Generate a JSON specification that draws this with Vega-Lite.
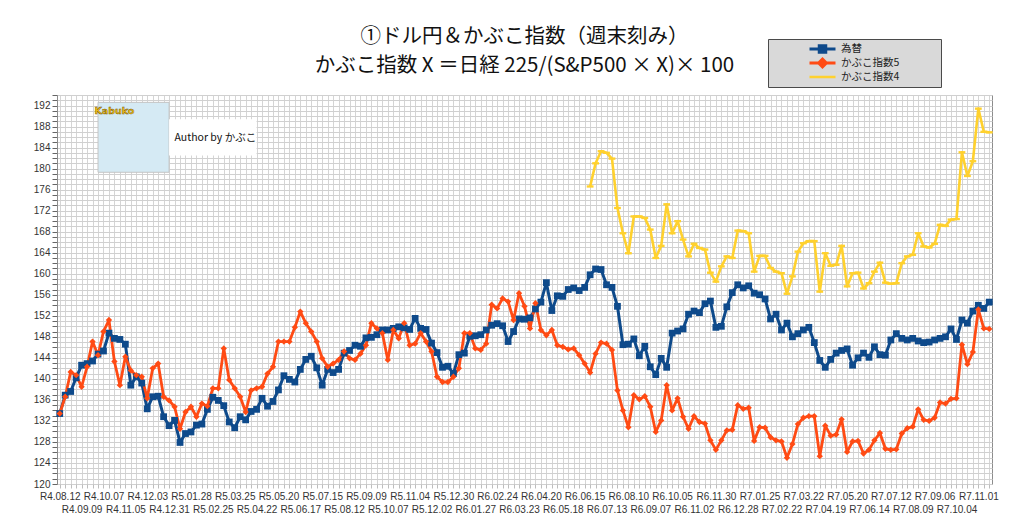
{
  "$schema": "https://vega.github.io/schema/vega-lite/v6.json",
  "width": 935,
  "height": 389,
  "autosize": {"type": "none"},
  "padding": {"left": 57, "top": 95, "right": 32, "bottom": 40},
  "background": "white",
  "title": {
    "text": ["①ドル円＆かぶこ指数（週末刻み）　", "かぶこ指数 X ＝日経 225/(S&P500 × X)× 100"],
    "frame": "group",
    "anchor": "middle",
    "offset": -38,
    "font": "Noto Sans CJK JP",
    "fontSize": 20.5,
    "fontWeight": 400,
    "color": "#111111",
    "lineHeight": 29
  },
  "config": {
    "view": {"stroke": "#8c8c8c"},
    "axis": {"labelFont": "Liberation Sans", "labelFontSize": 10, "labelColor": "#333333"}
  },
  "datasets": {
    "weekly": [
      {"d": "R4.08.12", "為替": 133.4, "かぶこ指数5": 133.4},
      {"d": "R4.08.19", "為替": 136.9, "かぶこ指数5": 136.6},
      {"d": "R4.08.26", "為替": 137.6, "かぶこ指数5": 141.3},
      {"d": "R4.09.02", "為替": 140.2, "かぶこ指数5": 140.7},
      {"d": "R4.09.09", "為替": 142.6, "かぶこ指数5": 138.5},
      {"d": "R4.09.16", "為替": 142.9, "かぶこ指数5": 142.3},
      {"d": "R4.09.23", "為替": 143.4, "かぶこ指数5": 147.1},
      {"d": "R4.09.30", "為替": 144.7, "かぶこ指数5": 144.5},
      {"d": "R4.10.07", "為替": 145.3, "かぶこ指数5": 149.0},
      {"d": "R4.10.14", "為替": 148.7, "かぶこ指数5": 151.2},
      {"d": "R4.10.21", "為替": 147.7, "かぶこ指数5": 143.3},
      {"d": "R4.10.28", "為替": 147.5, "かぶこ指数5": 138.8},
      {"d": "R4.11.05", "為替": 146.6, "かぶこ指数5": 144.2},
      {"d": "R4.11.12", "為替": 138.8, "かぶこ指数5": 141.6},
      {"d": "R4.11.19", "為替": 140.4, "かぶこ指数5": 140.7},
      {"d": "R4.11.26", "為替": 139.2, "かぶこ指数5": 140.4},
      {"d": "R4.12.03", "為替": 134.3, "かぶこ指数5": 136.3},
      {"d": "R4.12.10", "為替": 136.6, "かぶこ指数5": 142.0},
      {"d": "R4.12.17", "為替": 136.7, "かぶこ指数5": 142.9},
      {"d": "R4.12.24", "為替": 132.8, "かぶこ指数5": 136.6},
      {"d": "R4.12.31", "為替": 131.1, "かぶこ指数5": 135.9},
      {"d": "R5.01.07", "為替": 132.1, "かぶこ指数5": 134.7},
      {"d": "R5.01.14", "為替": 127.9, "かぶこ指数5": 130.5},
      {"d": "R5.01.21", "為替": 129.6, "かぶこ指数5": 133.7},
      {"d": "R5.01.28", "為替": 129.9, "かぶこ指数5": 134.7},
      {"d": "R5.02.04", "為替": 131.2, "かぶこ指数5": 132.8},
      {"d": "R5.02.11", "為替": 131.4, "かぶこ指数5": 135.3},
      {"d": "R5.02.18", "為替": 134.2, "かぶこ指数5": 134.8},
      {"d": "R5.02.25", "為替": 136.5, "かぶこ指数5": 138.2},
      {"d": "R5.03.04", "為替": 135.9, "かぶこ指数5": 138.2},
      {"d": "R5.03.11", "為替": 134.9, "かぶこ指数5": 145.8},
      {"d": "R5.03.18", "為替": 131.8, "かぶこ指数5": 139.8},
      {"d": "R5.03.25", "為替": 130.7, "かぶこ指数5": 138.2},
      {"d": "R5.04.01", "為替": 132.8, "かぶこ指数5": 136.6},
      {"d": "R5.04.08", "為替": 132.2, "かぶこ指数5": 133.7},
      {"d": "R5.04.15", "為替": 133.8, "かぶこ指数5": 137.8},
      {"d": "R5.04.22", "為替": 134.2, "かぶこ指数5": 138.2},
      {"d": "R5.04.29", "為替": 136.3, "かぶこ指数5": 138.5},
      {"d": "R5.05.06", "為替": 134.8, "かぶこ指数5": 141.0},
      {"d": "R5.05.13", "為替": 135.7, "かぶこ指数5": 142.3},
      {"d": "R5.05.20", "為替": 137.9, "かぶこ指数5": 147.1},
      {"d": "R5.05.27", "為替": 140.6, "かぶこ指数5": 147.1},
      {"d": "R5.06.03", "為替": 139.9, "かぶこ指数5": 147.1},
      {"d": "R5.06.10", "為替": 139.4, "かぶこ指数5": 149.8},
      {"d": "R5.06.17", "為替": 141.8, "かぶこ指数5": 152.8},
      {"d": "R5.06.24", "為替": 143.7, "かぶこ指数5": 150.6},
      {"d": "R5.07.01", "為替": 144.3, "かぶこ指数5": 149.0},
      {"d": "R5.07.08", "為替": 142.1, "かぶこ指数5": 147.1},
      {"d": "R5.07.15", "為替": 138.8, "かぶこ指数5": 143.9},
      {"d": "R5.07.22", "為替": 141.8, "かぶこ指数5": 142.3},
      {"d": "R5.07.29", "為替": 141.2, "かぶこ指数5": 142.9},
      {"d": "R5.08.05", "為替": 141.8, "かぶこ指数5": 143.6},
      {"d": "R5.08.12", "為替": 144.9, "かぶこ指数5": 145.2},
      {"d": "R5.08.19", "為替": 145.4, "かぶこ指数5": 143.9},
      {"d": "R5.08.26", "為替": 146.4, "かぶこ指数5": 143.6},
      {"d": "R5.09.02", "為替": 146.2, "かぶこ指数5": 144.8},
      {"d": "R5.09.09", "為替": 147.8, "かぶこ指数5": 146.4},
      {"d": "R5.09.16", "為替": 147.9, "かぶこ指数5": 150.6},
      {"d": "R5.09.23", "為替": 148.4, "かぶこ指数5": 149.6},
      {"d": "R5.09.30", "為替": 149.3, "かぶこ指数5": 148.7},
      {"d": "R5.10.07", "為替": 149.3, "かぶこ指数5": 143.6},
      {"d": "R5.10.14", "為替": 149.6, "かぶこ指数5": 149.3},
      {"d": "R5.10.21", "為替": 149.9, "かぶこ指数5": 147.7},
      {"d": "R5.10.28", "為替": 149.7, "かぶこ指数5": 150.6},
      {"d": "R5.11.04", "為替": 149.4, "かぶこ指数5": 146.4},
      {"d": "R5.11.11", "為替": 151.5, "かぶこ指数5": 146.7},
      {"d": "R5.11.18", "為替": 149.6, "かぶこ指数5": 148.7},
      {"d": "R5.11.25", "為替": 149.4, "かぶこ指数5": 147.1},
      {"d": "R5.12.02", "為替": 146.8, "かぶこ指数5": 145.2},
      {"d": "R5.12.09", "為替": 145.0, "かぶこ指数5": 140.4},
      {"d": "R5.12.16", "為替": 142.2, "かぶこ指数5": 139.4},
      {"d": "R5.12.23", "為替": 142.4, "かぶこ指数5": 139.4},
      {"d": "R5.12.30", "為替": 141.0, "かぶこ指数5": 140.4},
      {"d": "R6.01.06", "為替": 144.6, "かぶこ指数5": 142.0},
      {"d": "R6.01.13", "為替": 144.9, "かぶこ指数5": 148.7},
      {"d": "R6.01.20", "為替": 148.1, "かぶこ指数5": 148.7},
      {"d": "R6.01.27", "為替": 148.2, "かぶこ指数5": 145.8},
      {"d": "R6.02.03", "為替": 148.4, "かぶこ指数5": 145.5},
      {"d": "R6.02.10", "為替": 149.3, "かぶこ指数5": 146.7},
      {"d": "R6.02.17", "為替": 150.2, "かぶこ指数5": 154.1},
      {"d": "R6.02.24", "為替": 150.5, "かぶこ指数5": 153.4},
      {"d": "R6.03.02", "為替": 150.1, "かぶこ指数5": 155.3},
      {"d": "R6.03.09", "為替": 147.1, "かぶこ指数5": 154.7},
      {"d": "R6.03.16", "為替": 149.0, "かぶこ指数5": 151.2},
      {"d": "R6.03.23", "為替": 151.4, "かぶこ指数5": 156.3},
      {"d": "R6.03.30", "為替": 151.35, "かぶこ指数5": 153.8},
      {"d": "R6.04.06", "為替": 151.6, "かぶこ指数5": 149.6},
      {"d": "R6.04.13", "為替": 153.3, "かぶこ指数5": 154.4},
      {"d": "R6.04.20", "為替": 154.6, "かぶこ指数5": 149.3},
      {"d": "R6.04.27", "為替": 158.3, "かぶこ指数5": 148.3},
      {"d": "R6.05.04", "為替": 153.0, "かぶこ指数5": 149.3},
      {"d": "R6.05.11", "為替": 155.8, "かぶこ指数5": 146.4},
      {"d": "R6.05.18", "為替": 155.7, "かぶこ指数5": 146.1},
      {"d": "R6.05.25", "為替": 157.0, "かぶこ指数5": 145.6},
      {"d": "R6.06.01", "為替": 157.3, "かぶこ指数5": 145.8},
      {"d": "R6.06.08", "為替": 156.8, "かぶこ指数5": 144.5},
      {"d": "R6.06.15", "為替": 157.4, "かぶこ指数5": 142.9},
      {"d": "R6.06.22", "為替": 159.8, "かぶこ指数5": 141.2, "かぶこ指数4": 176.6},
      {"d": "R6.06.29", "為替": 160.9, "かぶこ指数5": 144.8, "かぶこ指数4": 181.0},
      {"d": "R6.07.06", "為替": 160.8, "かぶこ指数5": 146.9, "かぶこ指数4": 183.3},
      {"d": "R6.07.13", "為替": 157.9, "かぶこ指数5": 146.7, "かぶこ指数4": 183.0},
      {"d": "R6.07.20", "為替": 157.4, "かぶこ指数5": 145.5, "かぶこ指数4": 181.9},
      {"d": "R6.07.27", "為替": 153.8, "かぶこ指数5": 137.8, "かぶこ指数4": 172.5},
      {"d": "R6.08.03", "為替": 146.5, "かぶこ指数5": 134.0, "かぶこ指数4": 167.7},
      {"d": "R6.08.10", "為替": 146.6, "かぶこ指数5": 130.8, "かぶこ指数4": 163.9},
      {"d": "R6.08.17", "為替": 147.6, "かぶこ指数5": 136.9, "かぶこ指数4": 170.9},
      {"d": "R6.08.24", "為替": 144.4, "かぶこ指数5": 136.1, "かぶこ指数4": 170.9},
      {"d": "R6.08.31", "為替": 146.2, "かぶこ指数5": 136.7, "かぶこ指数4": 170.6},
      {"d": "R6.09.07", "為替": 142.3, "かぶこ指数5": 134.7, "かぶこ指数4": 168.4},
      {"d": "R6.09.14", "為替": 140.8, "かぶこ指数5": 129.9, "かぶこ指数4": 163.0},
      {"d": "R6.09.21", "為替": 143.9, "かぶこ指数5": 132.1, "かぶこ指数4": 165.3},
      {"d": "R6.09.28", "為替": 142.2, "かぶこ指数5": 138.8, "かぶこ指数4": 173.2},
      {"d": "R6.10.05", "為替": 148.7, "かぶこ指数5": 134.0, "かぶこ指数4": 167.7},
      {"d": "R6.10.12", "為替": 149.1, "かぶこ指数5": 136.3, "かぶこ指数4": 170.0},
      {"d": "R6.10.19", "為替": 149.5, "かぶこ指数5": 132.8, "かぶこ指数4": 166.5},
      {"d": "R6.10.26", "為替": 152.3, "かぶこ指数5": 130.5, "かぶこ指数4": 163.3},
      {"d": "R6.11.02", "為替": 152.9, "かぶこ指数5": 132.9, "かぶこ指数4": 165.7},
      {"d": "R6.11.09", "為替": 152.6, "かぶこ指数5": 131.8, "かぶこ指数4": 164.9},
      {"d": "R6.11.16", "為替": 154.3, "かぶこ指数5": 131.5, "かぶこ指数4": 164.6},
      {"d": "R6.11.23", "為替": 154.8, "かぶこ指数5": 128.3, "かぶこ指数4": 160.2},
      {"d": "R6.11.30", "為替": 149.8, "かぶこ指数5": 126.5, "かぶこ指数4": 158.5},
      {"d": "R6.12.07", "為替": 150.0, "かぶこ指数5": 128.3, "かぶこ指数4": 161.4},
      {"d": "R6.12.14", "為替": 153.7, "かぶこ指数5": 130.2, "かぶこ指数4": 163.3},
      {"d": "R6.12.21", "為替": 156.4, "かぶこ指数5": 130.3, "かぶこ指数4": 163.0},
      {"d": "R6.12.28", "為替": 157.9, "かぶこ指数5": 135.0, "かぶこ指数4": 168.2},
      {"d": "R7.01.04", "為替": 157.3, "かぶこ指数5": 134.3, "かぶこ指数4": 168.1},
      {"d": "R7.01.11", "為替": 157.7, "かぶこ指数5": 134.5, "かぶこ指数4": 167.7},
      {"d": "R7.01.18", "為替": 156.3, "かぶこ指数5": 128.2, "かぶこ指数4": 160.4},
      {"d": "R7.01.25", "為替": 156.0, "かぶこ指数5": 130.8, "かぶこ指数4": 163.4},
      {"d": "R7.02.01", "為替": 155.2, "かぶこ指数5": 130.7, "かぶこ指数4": 163.4},
      {"d": "R7.02.08", "為替": 151.4, "かぶこ指数5": 128.9, "かぶこ指数4": 161.1},
      {"d": "R7.02.15", "為替": 152.3, "かぶこ指数5": 128.3, "かぶこ指数4": 160.4},
      {"d": "R7.02.22", "為替": 149.3, "かぶこ指数5": 128.1, "かぶこ指数4": 160.1},
      {"d": "R7.03.01", "為替": 150.6, "かぶこ指数5": 125.0, "かぶこ指数4": 156.2},
      {"d": "R7.03.08", "為替": 148.0, "かぶこ指数5": 127.6, "かぶこ指数4": 159.5},
      {"d": "R7.03.15", "為替": 148.6, "かぶこ指数5": 131.4, "かぶこ指数4": 164.2},
      {"d": "R7.03.22", "為替": 149.3, "かぶこ指数5": 132.6, "かぶこ指数4": 165.8},
      {"d": "R7.03.29", "為替": 149.8, "かぶこ指数5": 132.9, "かぶこ指数4": 166.2},
      {"d": "R7.04.05", "為替": 146.9, "かぶこ指数5": 132.9, "かぶこ指数4": 166.2},
      {"d": "R7.04.12", "為替": 143.5, "かぶこ指数5": 125.3, "かぶこ指数4": 156.6},
      {"d": "R7.04.19", "為替": 142.2, "かぶこ指数5": 131.1, "かぶこ指数4": 163.9},
      {"d": "R7.04.26", "為替": 143.7, "かぶこ指数5": 129.2, "かぶこ指数4": 161.5},
      {"d": "R7.05.03", "為替": 144.9, "かぶこ指数5": 129.4, "かぶこ指数4": 161.7},
      {"d": "R7.05.10", "為替": 145.4, "かぶこ指数5": 132.3, "かぶこ指数4": 165.3},
      {"d": "R7.05.20", "為替": 145.7, "かぶこ指数5": 126.1, "かぶこ指数4": 157.6},
      {"d": "R7.05.24", "為替": 142.6, "かぶこ指数5": 128.1, "かぶこ指数4": 160.1},
      {"d": "R7.05.31", "為替": 144.0, "かぶこ指数5": 128.2, "かぶこ指数4": 160.2},
      {"d": "R7.06.07", "為替": 144.9, "かぶこ指数5": 125.8, "かぶこ指数4": 157.2},
      {"d": "R7.06.14", "為替": 144.1, "かぶこ指数5": 126.5, "かぶこ指数4": 158.2},
      {"d": "R7.06.21", "為替": 146.1, "かぶこ指数5": 128.3, "かぶこ指数4": 160.4},
      {"d": "R7.06.28", "為替": 144.6, "かぶこ指数5": 129.7, "かぶこ指数4": 162.1},
      {"d": "R7.07.05", "為替": 144.5, "かぶこ指数5": 126.7, "かぶこ指数4": 158.3},
      {"d": "R7.07.12", "為替": 147.4, "かぶこ指数5": 126.5, "かぶこ指数4": 158.1},
      {"d": "R7.07.19", "為替": 148.6, "かぶこ指数5": 126.6, "かぶこ指数4": 158.2},
      {"d": "R7.07.26", "為替": 147.7, "かぶこ指数5": 129.6, "かぶこ指数4": 162.0},
      {"d": "R7.08.02", "為替": 147.4, "かぶこ指数5": 130.6, "かぶこ指数4": 163.3},
      {"d": "R7.08.09", "為替": 147.7, "かぶこ指数5": 130.9, "かぶこ指数4": 163.6},
      {"d": "R7.08.16", "為替": 147.2, "かぶこ指数5": 134.2, "かぶこ指数4": 167.7},
      {"d": "R7.08.23", "為替": 146.9, "かぶこ指数5": 132.2, "かぶこ指数4": 165.2},
      {"d": "R7.08.30", "為替": 147.0, "かぶこ指数5": 132.0, "かぶこ指数4": 165.0},
      {"d": "R7.09.06", "為替": 147.4, "かぶこ指数5": 132.6, "かぶこ指数4": 165.7},
      {"d": "R7.09.13", "為替": 147.7, "かぶこ指数5": 135.5, "かぶこ指数4": 169.3},
      {"d": "R7.09.20", "為替": 148.0, "かぶこ指数5": 135.3, "かぶこ指数4": 169.1},
      {"d": "R7.09.27", "為替": 149.5, "かぶこ指数5": 136.2, "かぶこ指数4": 170.3},
      {"d": "R7.10.04", "為替": 147.5, "かぶこ指数5": 136.3, "かぶこ指数4": 170.4},
      {"d": "R7.10.11", "為替": 151.2, "かぶこ指数5": 146.5, "かぶこ指数4": 183.1},
      {"d": "R7.10.18", "為替": 150.6, "かぶこ指数5": 142.8, "かぶこ指数4": 178.6},
      {"d": "R7.10.25", "為替": 152.9, "かぶこ指数5": 145.1, "かぶこ指数4": 181.4},
      {"d": "R7.11.01", "為替": 154.0, "かぶこ指数5": 153.2, "かぶこ指数4": 191.4},
      {"d": "R7.11.08", "為替": 153.4, "かぶこ指数5": 149.6, "かぶこ指数4": 187.0},
      {"d": "R7.11.15", "為替": 154.6, "かぶこ指数5": 149.5, "かぶこ指数4": 186.9}
    ]
  },
  "data": {"name": "weekly"},
  "layer": [
    {
      "transform": [
        {"fold": ["為替", "かぶこ指数5", "かぶこ指数4"], "as": ["系列", "値"]},
        {"filter": "isValid(datum['値'])"}
      ],
      "mark": {"type": "line", "strokeJoin": "round"},
      "encoding": {
        "x": {
          "field": "d",
          "type": "ordinal",
          "scale": {"type": "point", "padding": 0.5},
          "axis": {
            "orient": "bottom",
            "title": null,
            "labels": false,
            "domain": false,
            "ticks": true,
            "tickSize": 4,
            "tickColor": "#bdbdbd",
            "grid": true,
            "gridColor": "#d5d5d5",
            "gridWidth": 1
          }
        },
        "y": {
          "field": "値",
          "type": "quantitative",
          "scale": {"domain": [120, 194], "nice": false, "zero": false},
          "axis": {
            "orient": "left",
            "title": null,
            "values": [120, 121, 122, 123, 124, 125, 126, 127, 128, 129, 130, 131, 132, 133, 134, 135, 136, 137, 138, 139, 140, 141, 142, 143, 144, 145, 146, 147, 148, 149, 150, 151, 152, 153, 154, 155, 156, 157, 158, 159, 160, 161, 162, 163, 164, 165, 166, 167, 168, 169, 170, 171, 172, 173, 174, 175, 176, 177, 178, 179, 180, 181, 182, 183, 184, 185, 186, 187, 188, 189, 190, 191, 192, 193, 194],
            "labelExpr": "datum.value % 4 === 0 ? datum.label : ''",
            "labelOverlap": false,
            "labelBound": false,
            "labelPadding": 2,
            "tickSize": 5,
            "tickColor": "#666666",
            "domain": true,
            "domainColor": "#8c8c8c",
            "grid": true,
            "gridColor": "#d0d0d0",
            "encode": {
              "grid": {"update": {"stroke": {"signal": "datum.value % 4 === 0 ? '#2e2e2e' : datum.value % 2 === 0 ? '#666666' : '#cdcdcd'"}}},
              "ticks": {"update": {"opacity": {"signal": "datum.value % 4 === 0 ? 1 : 0"}}}
            }
          }
        },
        "color": {
          "field": "系列",
          "type": "nominal",
          "scale": {"domain": ["為替", "かぶこ指数5", "かぶこ指数4"], "range": ["#0e4a8b", "#ff4b14", "#ffd12e"]},
          "legend": {
            "title": "　",
            "titleOrient": "right",
            "titlePadding": 38,
            "titleFontSize": 10,
            "titleColor": "#d9d9d9",
            "orient": "none",
            "legendX": 711,
            "legendY": -56,
            "fillColor": "#d9d9d9",
            "strokeColor": "#4a4a4a",
            "padding": 4,
            "symbolSize": 100,
            "symbolOffset": 44,
            "labelOffset": 12,
            "rowPadding": 2,
            "clipHeight": 12,
            "labelFont": "Noto Sans CJK JP",
            "labelFontSize": 10.5,
            "labelColor": "#222222",
            "encode": {
              "symbols": {
                "update": {
                  "shape": {"signal": "datum.value === '為替' ? 'M-2.6,0H2.6M-0.65,-0.65H0.65V0.65H-0.65Z' : datum.value === 'かぶこ指数5' ? 'M-2.6,0H2.6M0,-0.8L0.8,0L0,0.8L-0.8,0Z' : 'M-2.6,0H2.6'"},
                  "stroke": {"scale": "color", "field": "value"},
                  "fill": {"scale": "color", "field": "value"},
                  "strokeWidth": {"value": 2},
                  "size": {"value": 100},
                  "opacity": {"value": 1}
                }
              }
            }
          }
        },
        "strokeWidth": {
          "field": "系列",
          "type": "nominal",
          "scale": {"domain": ["為替", "かぶこ指数5", "かぶこ指数4"], "range": [3, 2.6, 2.6]},
          "legend": null
        }
      }
    },
    {
      "mark": {"type": "point", "filled": true, "opacity": 1, "shape": "square", "size": 46, "color": "#0e4a8b"},
      "encoding": {
        "x": {
          "field": "d",
          "type": "ordinal",
          "axis": {
            "orient": "bottom",
            "title": null,
            "values": ["R4.08.12", "R4.10.07", "R4.12.03", "R5.01.28", "R5.03.25", "R5.05.20", "R5.07.15", "R5.09.09", "R5.11.04", "R5.12.30", "R6.02.24", "R6.04.20", "R6.06.15", "R6.08.10", "R6.10.05", "R6.11.30", "R7.01.25", "R7.03.22", "R7.05.20", "R7.07.12", "R7.09.06", "R7.11.01"],
            "labelAngle": 0,
            "labelOverlap": false,
            "labelPadding": 7,
            "ticks": false,
            "tickSize": 0,
            "domain": false,
            "grid": false
          }
        },
        "y": {"field": "為替", "type": "quantitative", "axis": null}
      }
    },
    {
      "mark": {"type": "point", "filled": true, "opacity": 1, "shape": "diamond", "size": 40, "color": "#ff4b14"},
      "encoding": {
        "x": {"field": "d", "type": "ordinal", "axis": null},
        "y": {"field": "かぶこ指数5", "type": "quantitative", "axis": null}
      }
    },
    {
      "transform": [{"filter": "isValid(datum['かぶこ指数4'])"}],
      "mark": {"type": "point", "filled": true, "opacity": 1, "shape": "M-1,-0.35H1V0.35H-1Z", "size": 46, "color": "#ffd12e"},
      "encoding": {
        "x": {"field": "d", "type": "ordinal", "axis": null},
        "y": {"field": "かぶこ指数4", "type": "quantitative", "axis": null}
      }
    },
    {
      "data": {"values": [{}]},
      "mark": {"type": "rect", "fill": "#d5eaf4", "stroke": "#c4c4c4", "strokeWidth": 1},
      "encoding": {
        "x": {
          "datum": "R4.09.30",
          "type": "ordinal",
          "axis": {
            "orient": "bottom",
            "title": null,
            "values": ["R4.09.09", "R4.11.05", "R4.12.31", "R5.02.25", "R5.04.22", "R5.06.17", "R5.08.12", "R5.10.07", "R5.12.02", "R6.01.27", "R6.03.23", "R6.05.18", "R6.07.13", "R6.09.07", "R6.11.02", "R6.12.28", "R7.02.22", "R7.04.19", "R7.06.14", "R7.08.09", "R7.10.04"],
            "labelAngle": 0,
            "labelOverlap": false,
            "labelPadding": 20,
            "ticks": false,
            "tickSize": 0,
            "domain": false,
            "grid": false
          }
        },
        "x2": {"datum": "R4.12.31"},
        "y": {"datum": 192.6, "type": "quantitative", "axis": null},
        "y2": {"datum": 179.3}
      }
    },
    {
      "data": {"values": [{}]},
      "mark": {"type": "rect", "fill": "white"},
      "encoding": {
        "x": {"datum": "R4.12.31", "type": "ordinal", "axis": null},
        "x2": {"datum": "R5.04.22"},
        "y": {"datum": 189.4, "type": "quantitative", "axis": null},
        "y2": {"datum": 182.5}
      }
    },
    {
      "data": {"values": [{}]},
      "mark": {"type": "text", "text": "Author by かぶこ", "align": "left", "baseline": "middle", "font": "Noto Sans CJK JP", "fontSize": 10.5, "color": "#111111"},
      "encoding": {
        "x": {"datum": "R5.01.07", "type": "ordinal", "axis": null},
        "y": {"datum": 185.8, "type": "quantitative", "axis": null}
      }
    },
    {
      "data": {"values": [{}]},
      "mark": {"type": "text", "text": "Kabuko", "align": "center", "baseline": "middle", "font": "DejaVu Sans", "fontSize": 9.5, "fontWeight": "bold", "color": "#f3c210", "stroke": "#6b4a00", "strokeWidth": 0.4},
      "encoding": {
        "x": {"datum": "R4.10.21", "type": "ordinal", "axis": null},
        "y": {"datum": 190.9, "type": "quantitative", "axis": null}
      }
    }
  ],
  "resolve": {"axis": {"x": "independent", "y": "independent"}}
}
